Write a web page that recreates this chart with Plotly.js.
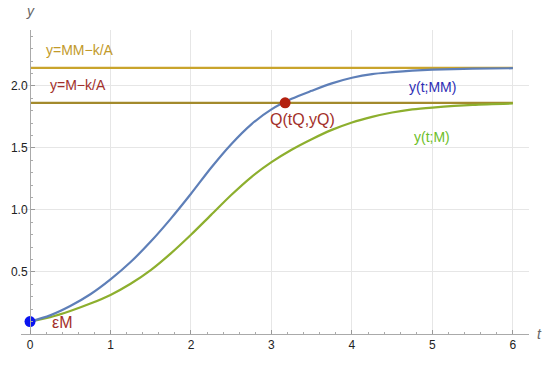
<!DOCTYPE html>
<html>
<head>
<meta charset="utf-8">
<script src="https://cdn.plot.ly/plotly-3.0.1.min.js"></script>
<style>html,body{margin:0;padding:0;background:#fff;}#chart{width:550px;height:367px;}</style>
</head>
<body>
<div id="chart"></div>
<script>
// Data
const tValues = [0, 0.25, 0.5, 0.75, 1.0, 1.25, 1.5, 1.75, 2.0, 2.25, 2.5, 2.75, 3.0, 3.25, 3.5, 3.75, 4.0, 4.25, 4.5, 4.75, 5.0, 5.5, 6.0];
const yMM = [0.10, 0.15, 0.225, 0.32, 0.44, 0.58, 0.745, 0.93, 1.13, 1.34, 1.53, 1.69, 1.81, 1.895, 1.96, 2.02, 2.065, 2.095, 2.11, 2.122, 2.13, 2.138, 2.142];
const yM  = [0.10, 0.135, 0.185, 0.245, 0.315, 0.405, 0.515, 0.65, 0.80, 0.96, 1.12, 1.265, 1.385, 1.485, 1.57, 1.645, 1.705, 1.75, 1.785, 1.81, 1.825, 1.847, 1.858];
const levelMM = 2.145;   // y = MM - k/A
const levelM = 1.863;    // y = M - k/A
const tSpan = [0, 6];
const startPoint = {t: 0, y: 0.10};
const pointQ = {t: 3.17, y: 1.863};
const xTicks = [0, 1, 2, 3, 4, 5, 6];
const yTicks = [0.5, 1.0, 1.5, 2.0];
const yTickText = ['0.5', '1.0', '1.5', '2.0'];

const xRange = [-0.112, 6.2];
const font = 'Liberation Sans, Arial, sans-serif';

const traces = [
  {x: tSpan, y: [levelMM, levelMM], mode: 'lines', line: {color: '#C9A42C', width: 2.4}, hoverinfo: 'skip'},
  {x: tSpan, y: [levelM, levelM], mode: 'lines', line: {color: '#A38A2C', width: 2.4}, hoverinfo: 'skip'},
  {x: tValues, y: yM, mode: 'lines', line: {color: '#8DAF2E', width: 2.2, shape: 'spline', smoothing: 0.8}, hoverinfo: 'skip'},
  {x: tValues, y: yMM, mode: 'lines', line: {color: '#5E7FB8', width: 2.2, shape: 'spline', smoothing: 0.8}, hoverinfo: 'skip'},
  {x: [startPoint.t], y: [startPoint.y], mode: 'markers', marker: {color: '#0A14F0', size: 11}, cliponaxis: false, hoverinfo: 'skip'},
  {x: [pointQ.t], y: [pointQ.y], mode: 'markers', marker: {color: '#B3200F', size: 11}, cliponaxis: false, hoverinfo: 'skip'}
];

const ann = (x, y, text, color, size, extra) => Object.assign({
  x: x, y: y, xref: 'x', yref: 'y', text: text, showarrow: false,
  font: {family: font, size: size, color: color}
}, extra || {});

const layout = {
  width: 550, height: 367,
  margin: {l: 21, r: 21, t: 30, b: 33},
  paper_bgcolor: '#fff', plot_bgcolor: '#fff',
  showlegend: false,
  font: {family: font, size: 12, color: '#222'},
  xaxis: {
    range: xRange, tickvals: xTicks, ticks: 'inside', ticklen: 4, tickcolor: '#999',
    showgrid: true, gridcolor: '#E6E6E6', gridwidth: 1,
    showline: true, linecolor: '#AAAAAA', linewidth: 1,
    zeroline: false, tickfont: {family: font, size: 12, color: '#222'},
    minor: {dtick: 0.2, ticks: 'inside', ticklen: 2, tickcolor: '#AAA', showgrid: false}
  },
  yaxis: {
    range: [0, 2.45], tickvals: yTicks, ticktext: yTickText, ticks: 'inside', ticklen: 4, tickcolor: '#999',
    showgrid: true, gridcolor: '#E6E6E6', gridwidth: 1,
    showline: true, linecolor: '#AAAAAA', linewidth: 1,
    zeroline: false, anchor: 'free', position: (0 - xRange[0]) / (xRange[1] - xRange[0]),
    tickfont: {family: font, size: 12, color: '#222'},
    minor: {dtick: 0.1, ticks: 'inside', ticklen: 2, tickcolor: '#AAA', showgrid: false}
  },
  annotations: [
    {x: 0.0, y: 2.45, xref: 'x', yref: 'y', text: '<i>y</i>', showarrow: false, xanchor: 'center', yanchor: 'bottom', yshift: 9,
     font: {family: font, size: 14, color: '#666'}},
    {x: 6.2, y: 0, xref: 'x', yref: 'y', text: '<i>t</i>', showarrow: false, xanchor: 'left', yanchor: 'middle', xshift: 6,
     font: {family: font, size: 14, color: '#666'}},
    ann(0.17, levelMM + 0.14, 'y=MM\u2212k/A', '#C29A2A', 14, {xanchor: 'left'}),
    ann(0.22, levelM + 0.14, 'y=M\u2212k/A', '#A3302A', 14, {xanchor: 'left'}),
    ann(3.39, 1.73, 'Q(tQ,yQ)', '#A3302A', 16, {}),
    ann(5.0, 1.99, 'y(t;MM)', '#2E2EB5', 14, {}),
    ann(5.0, 1.59, 'y(t;M)', '#6CBE2A', 14, {}),
    ann(0.4, 0.095, '\u03b5M', '#A3302A', 16, {})
  ]
};

Plotly.newPlot('chart', traces, layout, {staticPlot: true, displayModeBar: false});
</script>
</body>
</html>
